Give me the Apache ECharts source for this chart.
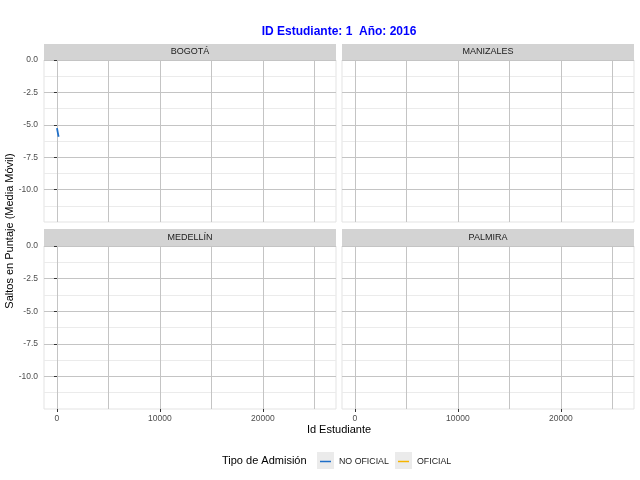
<!DOCTYPE html>
<html>
<head>
<meta charset="utf-8">
<script src="https://cdn.jsdelivr.net/npm/echarts@6/dist/echarts.min.js"></script>
<style>
  html, body { margin: 0; padding: 0; background: #fff; }
  #chart { width: 640px; height: 480px; }
</style>
</head>
<body>
<div id="chart"></div>
<script>
(function () {
  // datos
  var sedes = ['BOGOTÁ', 'MANIZALES', 'MEDELLÍN', 'PALMIRA'];
  var tipos = ['NO OFICIAL', 'OFICIAL'];
  var colores = ['#1f6fc8', '#f5b400'];
  var idEstudiante = [1, 40, 80, 120, 160];
  var saltosNoOficial = [-5.25, -5.4, -5.6, -5.75, -5.92];
  var saltosOficial = [];
  var xTicks = [0, 10000, 20000];
  var yTicks = [0, -2.5, -5, -7.5, -10];

  var myChart = echarts.init(document.getElementById('chart'), null, { renderer: 'canvas' });
  var fuente = 'Liberation Sans';

  // paneles: [left, top, width, height]
  var paneles = [
    [44, 60, 292, 162],
    [342, 60, 292, 162],
    [44, 246, 292, 163],
    [342, 246, 292, 163]
  ];
  var strips = [
    [44, 44, 292, 16],
    [342, 44, 292, 16],
    [44, 229, 292, 17],
    [342, 229, 292, 17]
  ];

  var grids = [], xAxes = [], yAxes = [], graphics = [];
  paneles.forEach(function (p, i) {
    grids.push({
      left: p[0], top: p[1], width: p[2], height: p[3],
      show: true, borderColor: '#e3e3e3', borderWidth: 1
    });
    var izq = i % 2 === 0;
    // eje x solo para la rejilla (cada 5000)
    xAxes.push({
      type: 'value', gridIndex: i, min: -1260, max: 27100,
      axisLine: { show: false },
      axisTick: { show: false },
      axisLabel: { show: false },
      splitLine: {
        show: true, showMinLine: false, showMaxLine: false,
        lineStyle: { color: '#c4c4c4', width: 1 }
      }
    });
    yAxes.push({
      type: 'value', gridIndex: i, min: -12.5, max: 0, interval: 2.5,
      axisLine: { show: false },
      axisTick: { show: izq, customValues: yTicks, length: 3, lineStyle: { color: '#333' } },
      axisLabel: {
        show: izq, customValues: yTicks, margin: 6,
        fontFamily: fuente, fontSize: 8.5, color: '#4d4d4d',
        formatter: function (v) { return v.toFixed(1); }
      },
      splitLine: { show: true, lineStyle: { color: '#c4c4c4', width: 1 } },
      minorTick: { show: false, splitNumber: 2 },
      minorSplitLine: { show: true, lineStyle: { color: '#ebebeb', width: 1 } }
    });
  });
  // ejes x con marcas y etiquetas en los paneles inferiores
  [2, 3].forEach(function (i) {
    xAxes.push({
      type: 'value', gridIndex: i, min: -1260, max: 27100, position: 'bottom',
      axisLine: { show: false },
      axisTick: { show: true, customValues: xTicks, length: 3, lineStyle: { color: '#333' } },
      axisLabel: {
        show: true, customValues: xTicks, margin: 5,
        fontFamily: fuente, fontSize: 8.5, color: '#4d4d4d',
        formatter: function (v) { return String(v); }
      },
      splitLine: { show: false }
    });
  });

  strips.forEach(function (s, i) {
    graphics.push({
      type: 'rect', silent: true,
      shape: { x: s[0], y: s[1], width: s[2], height: s[3] },
      style: { fill: '#d3d3d3' }
    });
    graphics.push({
      type: 'text', silent: true, x: s[0] + s[2] / 2, y: s[1] + s[3] / 2,
      style: {
        text: sedes[i], fill: '#1a1a1a', font: '9px "Liberation Sans"',
        align: 'center', verticalAlign: 'middle'
      }
    });
  });

  // titulos de ejes
  graphics.push({
    type: 'text', silent: true, x: 10, y: 231, rotation: Math.PI / 2,
    style: {
      text: 'Saltos en Puntaje (Media Móvil)', fill: '#000',
      font: '11px "Liberation Sans"', align: 'center', verticalAlign: 'middle'
    }
  });
  graphics.push({
    type: 'text', silent: true, x: 339, y: 430,
    style: {
      text: 'Id Estudiante', fill: '#000',
      font: '11px "Liberation Sans"', align: 'center', verticalAlign: 'middle'
    }
  });
  // leyenda
  graphics.push({
    type: 'text', silent: true, x: 222, y: 461,
    style: {
      text: 'Tipo de Admisión', fill: '#000',
      font: '11px "Liberation Sans"', align: 'left', verticalAlign: 'middle'
    }
  });
  [317, 395].forEach(function (bx) {
    graphics.push({
      type: 'rect', silent: true, z: -1,
      shape: { x: bx, y: 452, width: 17, height: 17 },
      style: { fill: '#ebebeb' }
    });
  });

  var leyenda = function (nombre, left) {
    return {
      data: [nombre], left: left, top: 457, orient: 'horizontal', padding: 0,
      icon: 'rect', itemWidth: 11, itemHeight: 1.5, itemGap: 0,
      textStyle: { fontFamily: fuente, fontSize: 8.8, color: '#1a1a1a', padding: [0, 0, 0, 3] }
    };
  };

  var option = {
    animation: false,
    backgroundColor: '#fff',
    title: {
      text: 'ID Estudiante: 1  Año: 2016',
      left: 339, top: 26, textAlign: 'center', padding: 0,
      textStyle: { fontFamily: fuente, fontSize: 12, fontWeight: 'bold', color: '#0000ff' }
    },
    legend: [leyenda(tipos[0], 320), leyenda(tipos[1], 398)],
    grid: grids,
    xAxis: xAxes,
    yAxis: yAxes,
    graphic: graphics,
    series: [
      {
        name: tipos[0], type: 'line', xAxisIndex: 0, yAxisIndex: 0,
        showSymbol: false, color: colores[0],
        lineStyle: { width: 1.8, color: colores[0] },
        data: idEstudiante.map(function (x, k) { return [x, saltosNoOficial[k]]; })
      },
      {
        name: tipos[1], type: 'line', xAxisIndex: 0, yAxisIndex: 0,
        showSymbol: false, color: colores[1],
        lineStyle: { width: 1.8, color: colores[1] },
        data: saltosOficial
      }
    ]
  };

  option && myChart.setOption(option);
})();
</script>
</body>
</html>
